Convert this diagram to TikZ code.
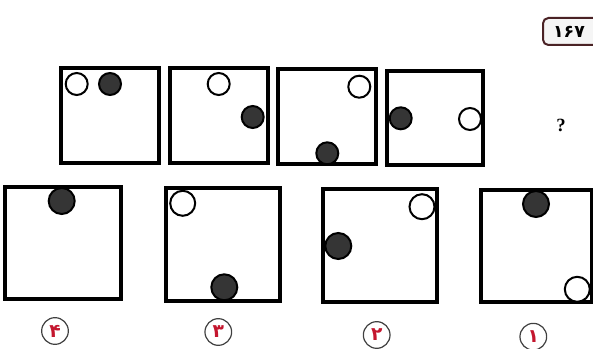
\documentclass[tikz,border=0pt]{standalone}
\usepackage{fontspec}
\newfontfamily\arabicfont[Script=Arabic]{DejaVu Sans}
\newfontfamily\qfont{Liberation Serif}
\definecolor{ballfill}{HTML}{353535}
\definecolor{labred}{HTML}{C4162E}
\definecolor{tagborder}{HTML}{4A2225}
\begin{document}
\begin{tikzpicture}[x=0.75pt,y=-0.75pt,
  frame/.style={draw=black,line width=2.6pt,fill=white},
  wball/.style={draw=black,line width=1.5pt,fill=white},
  bball/.style={draw=black,line width=1.5pt,fill=ballfill},
  optlabel/.style={circle,draw=black!75,line width=0.9pt,fill=white,minimum size=20pt,inner sep=0pt,text=labred,font=\arabicfont\bfseries\fontsize{14}{14}\selectfont},
  tag/.style={draw=tagborder,line width=1.5pt,rounded corners=4pt,fill=black!4}]
\useasboundingbox (0,0) rectangle (593,349);
\fill[white] (0,0) rectangle (593,349);
% tag
\draw[tag] (543,18) rectangle (610,45);
\node[font=\arabicfont\bfseries\fontsize{13}{13}\selectfont] (tagtext) at (569,31.5) {۱۶۷};
% top row
\draw[frame] (61,68) rectangle (159,163);
\draw[wball] (76.7,84) circle (11);
\draw[bball] (110,84) circle (11);
\draw[frame] (170,68) rectangle (268,163);
\draw[wball] (218.7,84) circle (11);
\draw[bball] (252.7,117) circle (11);
\draw[frame] (278,69) rectangle (376,164);
\draw[wball] (359.3,86.7) circle (11);
\draw[bball] (327.3,153.3) circle (11);
\draw[frame] (387,71) rectangle (483,165);
\draw[bball] (400.7,118.3) circle (11);
\draw[wball] (470,119) circle (11);
\node[font=\qfont\bfseries\fontsize{14}{14}\selectfont] (qmark) at (561,125) {?};
% bottom row
\draw[frame] (5,187) rectangle (121,299);
\draw[bball] (61.7,201) circle (13);
\draw[frame] (166,188) rectangle (280,301);
\draw[wball] (182.7,203.3) circle (12.5);
\draw[bball] (224.3,287.3) circle (13);
\draw[frame] (323,189) rectangle (437,302);
\draw[wball] (422,206.7) circle (12.5);
\draw[bball] (338.3,246) circle (13);
\draw[frame] (481,190) rectangle (592,302);
\draw[bball] (536,204) circle (13);
\draw[wball] (577.3,289.3) circle (12.5);
% labels
\node[optlabel] (l4) at (55,331) {۴};
\node[optlabel] (l3) at (218.3,332) {۳};
\node[optlabel] (l2) at (376.7,335) {۲};
\node[optlabel] (l1) at (533.3,336.7) {۱};
\end{tikzpicture}
\end{document}
